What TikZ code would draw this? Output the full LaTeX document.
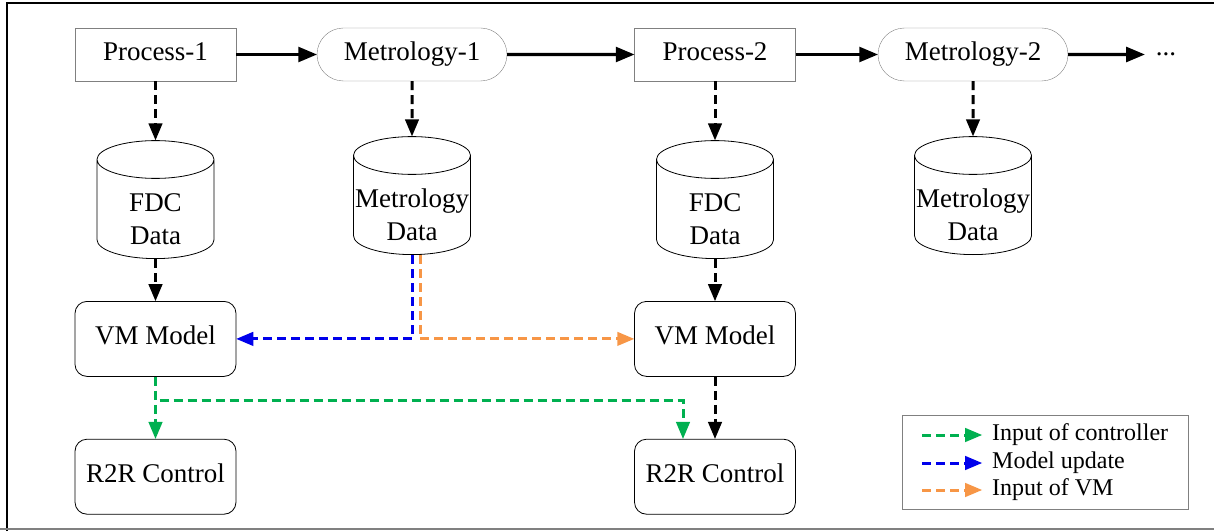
\documentclass[tikz,border=0pt]{standalone}
\usepackage{fontspec}
\setmainfont{Liberation Serif}
\usetikzlibrary{arrows,positioning,calc,shapes.geometric,shapes.misc}

\definecolor{cgreen}{RGB}{0,176,80}
\definecolor{cblue}{RGB}{0,0,235}
\definecolor{corange}{RGB}{247,150,70}

\begin{document}
\begin{tikzpicture}[->, >=triangle 45, x=1pt, y=1pt, font=\fontsize{27}{35}\selectfont]
\tikzstyle{proc}=[draw=gray, thin, minimum width=161pt, minimum height=53pt, inner sep=0pt, text height=18pt, text depth=6pt]
\tikzstyle{meas}=[rounded rectangle, draw=gray, thin, minimum width=190pt, minimum height=53pt, inner sep=0pt, text height=18pt, text depth=6pt]
\tikzstyle{db}=[cylinder, shape border rotate=90, aspect=0.63, draw, thick, text width=60pt, minimum width=117pt, minimum height=118pt, inner sep=0pt]
\tikzstyle{dbtext}=[align=center, inner sep=0pt, font=\fontsize{27}{33}\selectfont]
\tikzstyle{unit}=[draw, thick, rounded corners=12pt, minimum width=161pt, minimum height=75pt, text height=18pt, text depth=6pt]
\tikzstyle{flow}=[line width=3.4pt]
\tikzstyle{feed}=[line width=3pt, dash pattern=on 9pt off 5pt]

\useasboundingbox (0,0) rectangle (1214,531);
% frame
\draw[-, line width=1.5pt] (7,0) -- (7,528) -- (1214,528);
\draw[-, gray, line width=1.5pt] (0,2) -- (1214,2);

% production line
\node[proc] (P1) at (155.5,476.5) {Process-1};
\node[meas] (M1) at (412,476.5)   {Metrology-1};
\node[proc] (P2) at (715,476.5)   {Process-2};
\node[meas] (M2) at (973,476.5)   {Metrology-2};
\node[inner sep=0pt] (DOTS) at (1166,476.5) {...};

% data bases
\node[db, below=59pt of P1] (FDC1) {};
\node[db, below=55pt of M1] (MD1)  {};
\node[db, below=59pt of P2] (FDC2) {};
\node[db, below=55pt of M2] (MD2)  {};
\node[dbtext] (FDC1t) at ([yshift=-10pt]FDC1.center) {FDC\\Data};
\node[dbtext] (MD1t)  at ([yshift=-10pt]MD1.center)  {Metrology\\Data};
\node[dbtext] (FDC2t) at ([yshift=-10pt]FDC2.center) {FDC\\Data};
\node[dbtext] (MD2t)  at ([yshift=-10pt]MD2.center)  {Metrology\\Data};

% models and controllers
\node[unit, below=42pt of FDC1] (VM1)  {VM Model};
\node[unit, below=62pt of VM1]  (R2R1) {R2R Control};
\node[unit, below=42pt of FDC2] (VM2)  {VM Model};
\node[unit, below=62pt of VM2]  (R2R2) {R2R Control};

\path
 (P1) edge[flow] (M1)
 (M1) edge[flow] (P2)
 (P2) edge[flow] (M2)
 (M2) edge[flow, shorten >=11pt] (DOTS.west);

\path
 (P1) edge[feed] (FDC1)
 (M1) edge[feed] (MD1)
 (P2) edge[feed] (FDC2)
 (M2) edge[feed] (MD2)
 (FDC1) edge[feed] (VM1)
 (FDC2) edge[feed] (VM2)
 (VM2) edge[feed] (R2R2);

\draw[feed, cblue]   (MD1.south) |- (VM1.east);
\draw[feed, corange] ([xshift=8pt]MD1.south) |- (VM2.west);
\draw[feed, cgreen]  (VM1.south) -- (R2R1.north);
\draw[feed, cgreen]  (VM1.south) -- ++(0,-24) -| ([xshift=-32pt]R2R2.north);

% legend
\node[draw=gray, thin, minimum width=286pt, minimum height=94pt] (LEG) at (1045,69) {};
\coordinate (A1) at (922,96);
\coordinate (B1) at (982,96);
\coordinate (A2) at (922,68);
\coordinate (B2) at (982,68);
\coordinate (A3) at (922,41);
\coordinate (B3) at (982,41);
\draw[feed, cgreen]  (A1) -- (B1);
\draw[feed, cblue]   (A2) -- (B2);
\draw[feed, corange] (A3) -- (B3);
\node[anchor=west, inner sep=0pt, font=\fontsize{24}{28}\selectfont] (T1) at (992,96) {Input of controller};
\node[anchor=west, inner sep=0pt, font=\fontsize{24}{28}\selectfont] (T2) at (992,68) {Model update};
\node[anchor=west, inner sep=0pt, font=\fontsize{24}{28}\selectfont] (T3) at (992,41) {Input of VM};
\end{tikzpicture}
\end{document}
